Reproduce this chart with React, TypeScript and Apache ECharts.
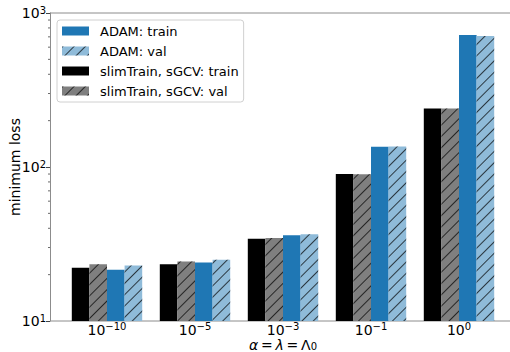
import React, { useEffect, useRef } from "react";
import * as echarts from "echarts";

const exponents = ["-10", "-5", "-3", "-1", "0"];
const slimTrainTrain = [22.2, 23.4, 34.2, 90.1, 240];
const slimTrainVal = [23.4, 24.3, 34.6, 89.8, 240];
const adamTrain = [21.5, 24.0, 36.0, 135.5, 719];
const adamVal = [22.9, 25.0, 36.6, 136, 709];
const minorTickValues = [20, 30, 40, 50, 60, 70, 80, 90, 200, 300, 400, 500, 600, 700, 800, 900];

const FONT = "DejaVu Sans";
const SPINE = "#8c8c8c";

const supRich = {
  b: { fontSize: 14, lineHeight: 13, fontFamily: FONT, color: "#000" },
  s: { fontSize: 10, lineHeight: 10, fontFamily: FONT, color: "#000", padding: [0, 0, 6, 0] },
};

const hatch = {
  symbol: "rect",
  symbolSize: 1,
  color: "rgba(0,0,0,0.7)",
  dashArrayX: [1, 0],
  dashArrayY: [1, 7],
  rotation: -Math.PI / 4,
};

export default function App() {
  const ref = useRef<HTMLDivElement>(null);
  useEffect(() => {
    const chart = echarts.init(ref.current!, null, { renderer: "svg" });
    const gridLeft = 63, gridTop = 13, gridBottomY = 321;
    const option: any = {
      animation: false,
      grid: { left: gridLeft, right: 7, top: gridTop, bottom: 352 - gridBottomY, containLabel: false, outerBoundsMode: "none" },
      legend: {
        orient: "vertical",
        left: 57,
        top: 20,
        padding: [3, 5, 3, 5],
        itemGap: 4,
        itemWidth: 27,
        itemHeight: 9,
        icon: "rect",
        borderColor: "#d0d0d0",
        borderWidth: 1,
        borderRadius: 3,
        textStyle: { fontFamily: FONT, fontSize: 13, color: "#000", lineHeight: 16, padding: [0, 0, 0, 6] },
        data: ["ADAM: train", "ADAM: val", "slimTrain, sGCV: train", "slimTrain, sGCV: val"],
      },
      xAxis: {
        type: "category",
        data: exponents,
        axisLine: { show: false },
        axisTick: { show: false },
        axisLabel: {
          interval: 0,
          margin: 2,
          formatter: (e: string) => `{b|10}{s|${e.replace("-", "−")}}`,
          rich: supRich,
        },
        name: "{i|α}\u2009=\u2009{i|λ}\u2009=\u2009Λ{sub|0}",
        nameLocation: "middle",
        nameGap: 17,
        nameMoveOverlap: false,
        nameTextStyle: {
          fontFamily: FONT,
          fontSize: 14,
          lineHeight: 13,
          color: "#000",
          rich: {
            i: { fontFamily: FONT, fontSize: 14, lineHeight: 13, fontStyle: "italic", color: "#000" },
            sub: { fontFamily: FONT, fontSize: 10, lineHeight: 10, color: "#000", padding: [4, 0, 0, 0] },
          },
        },
      },
      yAxis: {
        type: "log",
        logBase: 10,
        min: 10,
        max: 1000,
        offset: 13,
        axisLine: { show: true, lineStyle: { color: SPINE, width: 1 } },
        axisTick: { show: true, length: 4, lineStyle: { color: "#444" } },
        splitLine: { show: false },
        axisLabel: {
          margin: 4,
          formatter: (v: number) => `{b|10}{s|${Math.round(Math.log10(v))}}`,
          rich: supRich,
        },
        name: "minimum loss",
        nameLocation: "middle",
        nameGap: 28,
        nameMoveOverlap: false,
        nameTextStyle: { fontFamily: FONT, fontSize: 14, color: "#000" },
      },
      series: [
        { name: "slimTrain, sGCV: train", type: "bar", data: slimTrainTrain, itemStyle: { color: "#000000" } },
        { name: "slimTrain, sGCV: val", type: "bar", data: slimTrainVal, itemStyle: { color: "#7f7f7f", decal: hatch } },
        { name: "ADAM: train", type: "bar", data: adamTrain, itemStyle: { color: "#1f77b4" } },
        { name: "ADAM: val", type: "bar", data: adamVal, itemStyle: { color: "#8fbbd9", decal: hatch } },
      ].map((s) => ({ ...s, barGap: "0%", barCategoryGap: "20%" })),
    };
    chart.setOption(option);
    const minor = minorTickValues.map((v) => {
      const y = chart.convertToPixel({ yAxisIndex: 0 }, v) as number;
      return { type: "line", shape: { x1: 48, y1: y, x2: 50, y2: y }, style: { stroke: "#444", lineWidth: 0.8 }, silent: true };
    });
    chart.setOption({
      graphic: [
        ...minor,
        { type: "line", shape: { x1: 50, y1: gridTop, x2: 510, y2: gridTop }, style: { stroke: SPINE, lineWidth: 1 }, silent: true },
        { type: "line", shape: { x1: 50, y1: gridBottomY, x2: 510, y2: gridBottomY }, style: { stroke: SPINE, lineWidth: 1 }, silent: true },
      ],
    });
    return () => chart.dispose();
  }, []);
  return <div ref={ref} style={{ width: 510, height: 352, position: "absolute", left: 0, top: 0 }} />;
}
